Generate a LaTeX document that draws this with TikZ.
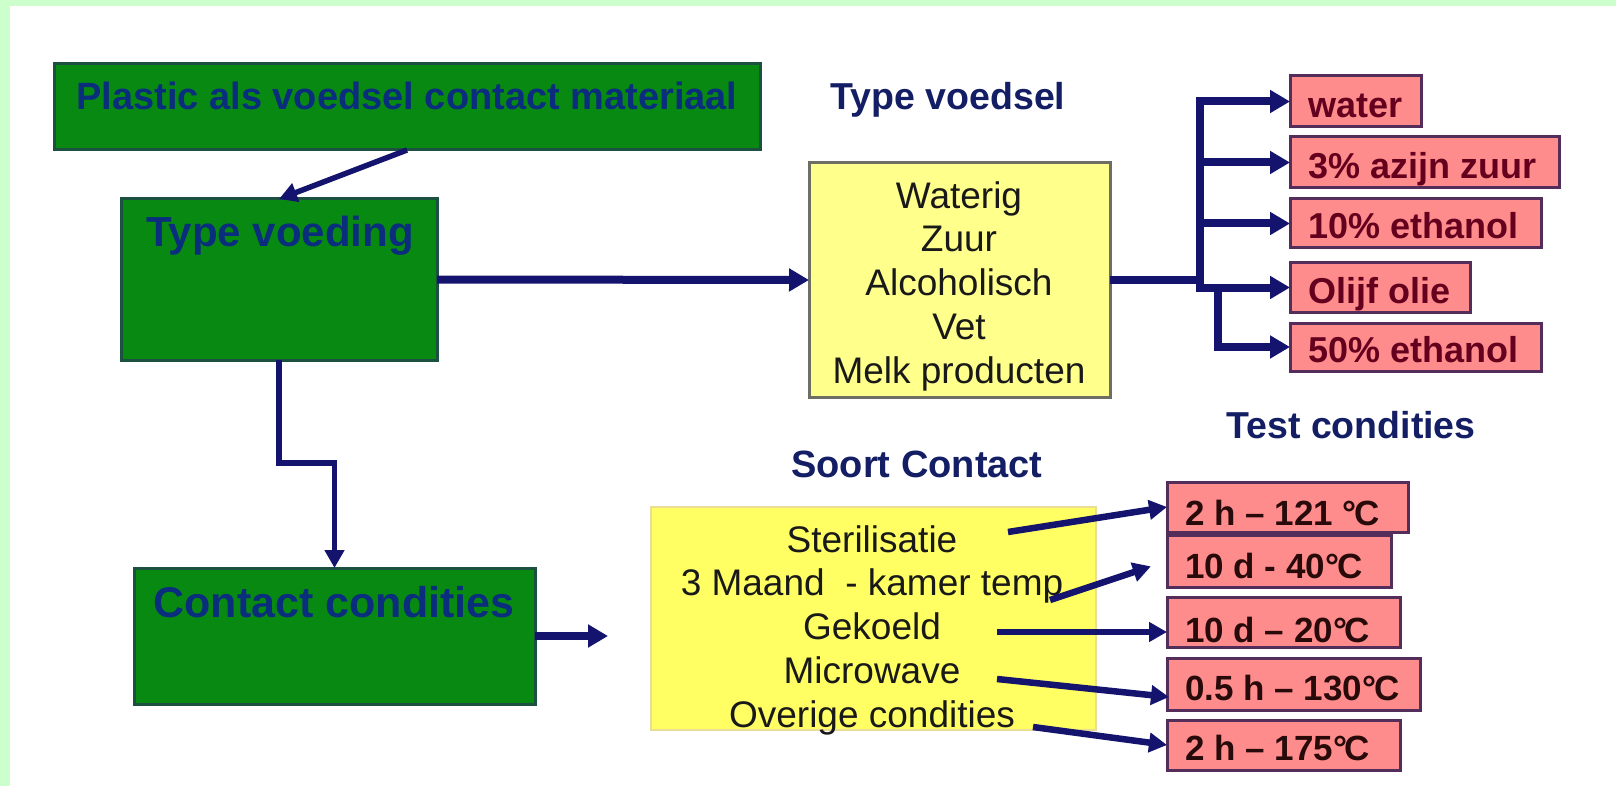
\documentclass[tikz,border=0pt]{standalone}
\usepackage{fontspec}
\setmainfont{Liberation Sans}
\usetikzlibrary{arrows.meta,calc}
\definecolor{bg}{RGB}{204,255,204}
\definecolor{gfill}{RGB}{8,138,18}
\definecolor{gdraw}{RGB}{28,80,64}
\definecolor{gtext}{RGB}{10,45,125}
\definecolor{yfillA}{RGB}{255,255,140}
\definecolor{ydrawA}{RGB}{110,110,100}
\definecolor{yfillB}{RGB}{255,255,100}
\definecolor{ydrawB}{RGB}{235,220,150}
\definecolor{pfill}{RGB}{255,140,140}
\definecolor{pdraw}{RGB}{85,45,90}
\definecolor{ptextA}{RGB}{100,0,30}
\definecolor{ptextB}{RGB}{40,10,10}
\definecolor{acol}{RGB}{20,20,110}
\definecolor{lcol}{RGB}{20,30,100}
\newcommand\bx[6]{\node[#2,anchor=north west,minimum width={#5-#3},minimum height={#6-#4}] (#1) at (#3,#4) {};}
\newcommand\fs[1]{\fontsize{#1}{#1}\selectfont}
\tikzset{
  greenbox/.style={draw=gdraw,fill=gfill,line width=3pt,inner sep=0pt,outer sep=0pt},
  yellowA/.style={draw=ydrawA,fill=yfillA,line width=3pt,inner sep=0pt,outer sep=0pt},
  yellowB/.style={draw=ydrawB,fill=yfillB,line width=1.5pt,inner sep=0pt,outer sep=0pt},
  pinkbox/.style={draw=pdraw,fill=pfill,line width=3pt,inner sep=0pt,outer sep=0pt},
  gtxt/.style={text=gtext,inner sep=0pt,anchor=base,font=\bfseries},
  lbl/.style={text=lcol,inner sep=0pt,anchor=base,font=\bfseries\fs{37.5}},
  ytxt/.style={text=black!90,inner sep=0pt,align=center,font=\fontsize{37}{43.75}\selectfont},
  ptA/.style={text=ptextA,inner sep=0pt,anchor=base west,font=\bfseries\fs{36}},
  ptB/.style={text=ptextB,inner sep=0pt,anchor=base west,font=\bfseries\fs{35}},
  arr/.style={draw=acol,line width=8pt,-{Triangle[length=20pt,width=22pt]}},
  arrm/.style={draw=acol,line width=5.5pt,-{Triangle[length=18pt,width=19pt]}},
  arrl/.style={draw=acol,line width=6.5pt,-{Triangle[length=18pt,width=19pt]}},
  branch/.style={draw=acol,line width=8pt},
}
\begin{document}
\begin{tikzpicture}[x=1pt,y=-1pt]
\useasboundingbox (0,0) rectangle (1616,786);
\fill[bg] (0,0) rectangle (1616,786);
\fill[white] (10,6) rectangle (1616,786);
% boxes
\bx{plastic}{greenbox}{54}{64}{760}{150}
\bx{tv}{greenbox}{121}{199}{437}{360}
\bx{cc}{greenbox}{134}{568}{535}{704}
\bx{y1}{yellowA}{809}{163}{1110}{397}
\bx{y2}{yellowB}{651}{507}{1096}{730}
\bx{water}{pinkbox}{1290}{76}{1421}{127}
\bx{azijn}{pinkbox}{1290}{137}{1559}{188}
\bx{eth10}{pinkbox}{1290}{199}{1541}{248}
\bx{olie}{pinkbox}{1290}{263}{1470}{312}
\bx{eth50}{pinkbox}{1290}{323}{1541}{371}
\bx{t121}{pinkbox}{1167}{482}{1408}{532}
\bx{t40}{pinkbox}{1167}{535}{1391}{587}
\bx{t20}{pinkbox}{1167}{597}{1400}{647}
\bx{t130}{pinkbox}{1167}{658}{1420}{710}
\bx{t175}{pinkbox}{1167}{720}{1400}{770}
% texts
\node[gtxt,font=\bfseries\fs{38}] (tplastic) at (407,110) {Plastic als voedsel contact materiaal};
\node[gtxt,font=\bfseries\fs{42}] (ttv) at (280,247) {Type voeding};
\node[gtxt,font=\bfseries\fs{43}] (tcc) at (334,617) {Contact condities};
\node[lbl] (ltv) at (948,110) {Type voedsel};
\node[lbl,font=\bfseries\fs{38}] (lsc) at (917,477) {Soort Contact};
\node[lbl] (ltc) at (1351,438) {Test condities};
\node[ytxt] (y1t) at (959,286) {Waterig\\Zuur\\Alcoholisch\\Vet\\Melk producten};
\node[ytxt] (y2t) at (872,630) {Sterilisatie\\3 Maand\ \ - kamer temp\\Gekoeld\\Microwave\\Overige condities};
\node[ptA] (twater) at (1308,118) {water};
\node[ptA] (tazijn) at (1308,179) {3\% azijn zuur};
\node[ptA] (teth10) at (1308,239) {10\% ethanol};
\node[ptA] (tolie) at (1308,303) {Olijf olie};
\node[ptA] (teth50) at (1308,362) {50\% ethanol};
\node[ptB] (tt121) at (1185,525) {2 h – 121 °\kern-0.06em C};
\node[ptB] (tt40) at (1185,578) {10 d - 40°\kern-0.06em C};
\node[ptB] (tt20) at (1185,642) {10 d – 20°\kern-0.06em C};
\node[ptB] (tt130) at (1185,700) {0.5 h – 130°\kern-0.06em C};
\node[ptB] (tt175) at (1185,760) {2 h – 175°\kern-0.06em C};
% connectors
\draw[arrm] (plastic.south) -- (tv.north);
\draw[arr] (tv.east) -- (y1.west);
\draw[arrm] (tv.south) -- ++(0,103) -| (cc.north);
\coordinate (ccend) at (608,636);
\draw[arr] (cc.east) -- (ccend);
\coordinate (bj) at (1200,280);
\coordinate (bj2) at (1218,287.5);
\draw[branch] (y1.east) -- (bj);
\draw[arr] (bj) |- (water.west);
\draw[arr] (bj) |- (azijn.west);
\draw[arr] (bj) |- (eth10.west);
\draw[arr] (bj) |- (olie.west);
\draw[arr] (bj2) |- (eth50.west);
\coordinate (s1) at (1008,532);
\coordinate (s2) at (1050,600);
\coordinate (s3) at (997,632);
\coordinate (s4) at (997,679);
\coordinate (s5) at (1033,727);
\draw[arrl] (s1) -- (t121.west);
\draw[arrl,shorten >=17pt] (s2) -- (t40.west);
\draw[arrl] (s3) -- ($(t20.west)+(0,10)$);
\draw[arrl] (s4) -- ($(t130.west)+(2,13)$);
\draw[arrl] (s5) -- (t175.west);
\end{tikzpicture}
\end{document}
